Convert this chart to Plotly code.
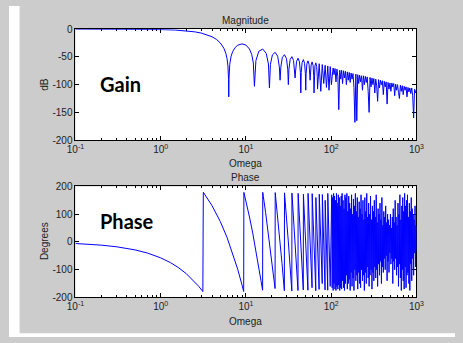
import plotly.graph_objects as go

# ---------------- Magnitude data ----------------
mag_w_low = [0.1, 0.3, 0.5, 1, 1.5, 2, 2.5, 3, 3.5, 4, 4.5, 5, 5.5, 5.8, 6, 6.15,
             6.25, 6.283, 6.32, 6.45, 6.7, 7, 7.5, 8, 8.99, 10, 11, 11.7, 12.2, 12.566]
mag_db_low = [0, -0.07, -0.18, -0.73, -1.66, -3.0, -4.79, -7.09, -10.0, -13.7, -18.4,
              -24.8, -34.3, -43.3, -53.1, -66.6, -91, -122, -89.4, -63.5, -48.4, -40.0,
              -32.7, -28.9, -26.5, -28.7, -35.8, -45.8, -61, -103]

mag_w_lobes = [13.07, 14.14, 15.71, 17.28, 18.35, 18.85,
               19.35, 20.42, 21.99, 23.56, 24.63, 25.13,
               25.63, 26.70, 28.27, 29.85, 30.92, 31.42,
               31.92, 32.99, 34.56, 36.13, 37.20, 37.70,
               38.20, 39.27, 40.84, 42.41, 43.48, 43.98,
               44.48, 45.55, 47.12, 48.69, 49.77, 50.27,
               50.77, 51.84, 53.41, 54.98, 56.05, 56.55,
               57.05, 58.12, 59.69, 61.26, 62.33, 62.83,
               63.33, 64.40, 65.97, 67.54, 68.61, 69.12,
               72.26, 75.40, 78.54, 81.68, 84.82, 87.96, 91.11, 94.25, 97.39, 100.53]
mag_db_lobes = [-56.9, -40.0, -35.8, -43.5, -62.8, -106,
                -63.7, -46.4, -41.7, -48.8, -67.9, -92,
                -68.6, -51.0, -46.0, -53.0, -71.9, -100,
                -72.4, -54.7, -49.5, -56.3, -75.1, -88,
                -75.5, -57.7, -52.4, -59.1, -77.8, -115,
                -78.2, -60.3, -54.9, -61.5, -80.1, -110,
                -80.5, -62.5, -57.1, -63.6, -82.2, -92,
                -82.5, -64.5, -59.0, -65.4, -84.0, -115,
                -84.3, -66.3, -60.7, -67.1, -85.7, -108,
                -62.3, -112, -63.8, -98, -65.1, -105, -66.3, -110, -67.5, -100]

mag_w_dense = [102.6, 105.3, 108.0, 110.8, 113.7, 116.6, 119.6, 122.7, 125.9, 129.2,
               132.5, 135.9, 139.5, 143.1, 146.8, 150.6, 154.5, 158.5, 162.6, 166.8,
               171.1, 175.5, 180.1, 184.8, 189.6, 194.5, 199.5, 204.7, 210.0, 215.4,
               221.0, 226.7, 232.6, 238.6, 244.8, 251.2, 257.7, 264.4, 271.3, 278.3,
               285.5, 292.9, 300.5, 308.3, 316.2, 324.4, 332.8, 341.5, 350.3, 359.4,
               368.7, 378.3, 388.1, 398.1, 408.5, 419.0, 429.9, 441.1, 452.5, 464.2,
               476.2, 488.6, 501.2, 514.2, 527.5, 541.2, 555.2, 569.6, 584.4, 599.5,
               615.1, 631.0, 647.4, 664.2, 681.3, 699.0, 717.1, 735.7, 754.8, 774.3,
               794.3, 815.0, 836.0, 857.7, 880.0, 902.8, 926.2, 950.2, 974.9, 1000.0]
mag_db_dense = [-86, -70, -82, -71, -95, -72, -85, -145, -74, -90,
                -74, -98, -75, -88, -76, -100, -77, -92, -78, -96,
                -79, -90, -80, -105, -168, -81, -165, -82, -98, -83,
                -95, -84, -110, -84, -100, -85, -96, -86, -112, -150,
                -87, -104, -88, -100, -89, -115, -90, -102, -130, -91,
                -106, -92, -100, -93, -118, -94, -104, -95, -135, -96,
                -108, -97, -112, -97, -104, -98, -120, -99, -110, -100,
                -114, -125, -101, -112, -102, -118, -103, -110, -104, -122,
                -105, -113, -106, -116, -106, -120, -160, -108, -115, -109]

# ---------------- Phase data ----------------
ph_w_low = [0.1, 0.15, 0.2, 0.3, 0.4, 0.5, 0.7, 1, 1.3, 1.6, 2, 2.4, 2.8, 3.12,
            3.16, 4, 5, 6, 7, 8, 9, 9.40,
            9.45, 10, 11, 12, 13, 14, 15, 15.68,
            15.73, 16, 17, 18, 19, 20, 21, 21.95,
            22.03, 23.5, 25, 26.5, 28.2]
ph_deg_low = [-5.7, -8.6, -11.5, -17.2, -22.9, -28.6, -40.1, -57.3, -74.5, -91.7, -114.6,
              -137.5, -160.4, -178.8,
              178.9, 130.8, 73.5, 16.2, -41.1, -98.4, -155.7, -178.6,
              178.6, 147.0, 89.8, 32.5, -24.8, -82.1, -139.4, -174,
              178.7, 163.3, 106.0, 48.7, -8.6, -65.9, -123.2, -168,
              177.8, 93.5, 7.6, -78.3, -175.7]

ph_w_saw = [28.32, 31.42, 34.50, 34.62, 37.70, 40.75, 40.92, 43.98, 47.0,
            47.2, 50.27, 53.3, 53.5, 56.55, 59.6, 59.8, 62.83, 65.9,
            66.1, 69.12, 72.1, 72.4, 75.40, 78.4, 78.7, 81.68, 84.7,
            84.95, 87.96, 91.0, 91.2, 94.25, 97.3]
ph_deg_saw = [177, 0, -177, 176, 0, -175, 175, 0, -173,
              172, 0, -174, 175, 0, -165, 174, 0, -176,
              160, 0, -171, 172, 0, -150, 171, 0, -173,
              150, 0, -174, 175, 0, -160]

ph_w_dense = [101.3, 102.6, 103.9, 105.3, 106.7, 108.0, 109.4, 110.8, 112.2, 113.7,
              115.2, 116.6, 118.1, 119.6, 121.1, 122.7, 124.3, 125.9, 127.5, 129.2,
              130.9, 132.5, 134.2, 135.9, 137.7, 139.5, 141.3, 143.1, 144.9, 146.8,
              148.7, 150.6, 152.5, 154.5, 156.5, 158.5, 160.5, 162.6, 164.7, 166.8,
              168.9, 171.1, 173.3, 175.5, 177.8, 180.1, 182.4, 184.8, 187.2, 189.6,
              192.0, 194.5, 197.0, 199.5, 202.1, 204.7, 207.3, 210.0, 212.7, 215.4,
              218.2, 221.0, 223.8, 226.7, 229.6, 232.6, 235.6, 238.6, 241.7, 244.8,
              247.9, 251.2, 254.4, 257.7, 261.0, 264.4, 267.8, 271.3, 274.8, 278.3,
              281.9, 285.5, 289.2, 292.9, 296.7, 300.5, 304.4, 308.3, 312.3, 316.2,
              320.3, 324.4, 328.6, 332.8, 337.1, 341.5, 345.9, 350.3, 354.8, 359.4,
              364.0, 368.7, 373.4, 378.3, 383.2, 388.1, 393.1, 398.1, 403.2, 408.5,
              413.8, 419.0, 424.4, 429.9, 435.4, 441.1, 446.8, 452.5, 458.3, 464.2,
              470.2, 476.2, 482.3, 488.6, 494.9, 501.2, 507.7, 514.2, 520.8, 527.5,
              534.3, 541.2, 548.2, 555.2, 562.3, 569.6, 576.9, 584.4, 591.9, 599.5,
              607.2, 615.1, 623.0, 631.0, 639.1, 647.4, 655.7, 664.2, 672.7, 681.3,
              690.1, 699.0, 708.0, 717.1, 726.3, 735.7, 745.2, 754.8, 764.5, 774.3,
              784.3, 794.3, 804.5, 815.0, 825.5, 836.0, 846.8, 857.7, 868.7, 880.0,
              891.3, 902.8, 914.4, 926.2, 938.1, 950.2, 962.4, 974.9, 987.4, 1000.0]
ph_deg_dense = [170, -165, 160, -175, 175, -150, 165, -170, 150, -175,
                175, -160, 140, -170, 170, -155, 160, -175, 130, -165,
                165, -170, 175, -140, 150, -165, 120, -175, 170, -150,
                160, -120, 175, -170, 110, -150, 165, -135, 140, -175,
                120, -110, 170, -160, 100, -130, 155, -175, 130, -100,
                175, -140, 110, -120, 160, -170, 90, -110, 145, -150,
                120, -165, 170, -100, 100, -140, 150, -120, 80, -175,
                160, -110, 110, -150, 175, -90, 90, -130, 140, -160,
                100, -120, 165, -100, 80, -170, 130, -110, 110, -140,
                150, -90, 90, -130, 170, -100, 70, -160, 120, -80,
                100, -120, 140, -70, 80, -150, 160, -90, 60, -110,
                110, -60, 90, -100, 130, -50, 70, -140, 100, -70,
                80, -110, 60, -40, 100, -80, 50, -60, 90, -150,
                120, -70, 70, -100, 150, -60, 90, -120, 60, -90,
                140, -160, 100, -80, 170, -130, 80, -175, 130, -100,
                160, -140, 110, -170, 175, -90, 130, -165, 150, -120,
                170, -110, 90, -150, 140, -175, 110, -80, 160, -140,
                120, -60, 100, -120, 80, -40, 130, -90, 60, -30]

x_tickvals = [0.1, 1, 10, 100, 1000]
x_ticktext = ["10<sup>-1</sup>", "10<sup>0</sup>", "10<sup>1</sup>", "10<sup>2</sup>", "10<sup>3</sup>"]
mag_tickvals = [-200, -150, -100, -50, 0]
mag_ticktext = ["-200", "-150", "-100", "-50", "0"]
ph_tickvals = [-200, -100, 0, 100, 200]
ph_ticktext = ["-200", "-100", "0", "100", "200"]

mag_w = mag_w_low + mag_w_lobes + mag_w_dense
mag_db = mag_db_low + mag_db_lobes + mag_db_dense
ph_w = ph_w_low + ph_w_saw + ph_w_dense
ph_deg = ph_deg_low + ph_deg_saw + ph_deg_dense

W, H = 463, 343
def px(x):
    return x / W
def py(y):
    return 1 - y / H

BLUE = "rgb(0,0,255)"
fig = go.Figure()
fig.add_trace(go.Scatter(x=mag_w, y=mag_db, mode="lines",
                         line=dict(color=BLUE, width=1), xaxis="x", yaxis="y"))
fig.add_trace(go.Scatter(x=ph_w, y=ph_deg, mode="lines",
                         line=dict(color=BLUE, width=1), xaxis="x2", yaxis="y2"))

minor_vals = [m * 10 ** e for e in range(-1, 3) for m in range(2, 10)]
tickfont = dict(family="Liberation Sans, Arial", size=10, color="#222222")

def xax(domain, anchor):
    return dict(domain=domain, anchor=anchor, type="log", range=[-1, 3],
                tickmode="array", tickvals=x_tickvals, ticktext=x_ticktext,
                ticks="inside", ticklen=4, tickcolor="black", tickwidth=1,
                showline=True, linecolor="black", linewidth=1, mirror="ticks",
                showgrid=False, zeroline=False, tickfont=tickfont,
                layer="below traces",
                minor=dict(tickmode="array", tickvals=minor_vals, ticks="inside",
                           ticklen=2, tickcolor="black", showgrid=False))

def yax(domain, anchor, rng, tv, tt):
    return dict(domain=domain, anchor=anchor, range=rng, tickmode="array",
                tickvals=tv, ticktext=tt, ticks="inside", ticklen=4,
                tickcolor="black", showline=True, linecolor="black", linewidth=1,
                mirror="ticks", showgrid=False, zeroline=False, tickfont=tickfont,
                layer="below traces")

x0, x1 = px(69), px(423)
fig.update_layout(
    width=W, height=H, margin=dict(l=0, r=0, t=0, b=0),
    paper_bgcolor="#cccccc", plot_bgcolor="white", showlegend=False,
    xaxis=xax([x0, x1], "y"),
    yaxis=yax([py(139), py(24)], "x", [-200, 0], mag_tickvals, mag_ticktext),
    xaxis2=xax([x0, x1], "y2"),
    yaxis2=yax([py(302), py(187)], "x2", [-200, 200], ph_tickvals, ph_ticktext),
    shapes=[
        dict(type="rect", xref="paper", yref="paper", x0=0, x1=px(11), y0=0, y1=1,
             fillcolor="white", line=dict(width=0), layer="below"),
        dict(type="rect", xref="paper", yref="paper", x0=0, x1=1, y0=0, y1=4 / H,
             fillcolor="white", line=dict(width=0), layer="below"),
    ],
)

small = dict(family="Liberation Sans, Arial", size=10, color="#222222")
big = dict(family="Lato", size=20, color="black")
xc = px(246)
annots = [
    dict(text="Magnitude", x=xc, y=py(15), font=small),
    dict(text="Omega", x=xc, y=py(163), font=small),
    dict(text="Phase", x=xc, y=py(178), font=small),
    dict(text="Omega", x=xc, y=py(327), font=small),
    dict(text="dB", x=px(37), y=py(81), font=small, textangle=-90),
    dict(text="Degrees", x=px(37), y=py(244), font=small, textangle=-90),
    dict(text="<b>Gain</b>", x=px(92), y=py(81), font=big, xanchor="left"),
    dict(text="<b>Phase</b>", x=px(92), y=py(223), font=big, xanchor="left"),
]
for a in annots:
    a.setdefault("xanchor", "center")
    fig.add_annotation(xref="paper", yref="paper", showarrow=False, yanchor="middle", **a)

fig.write_html("out.html",
               post_script="document.body.style.margin='0px';document.body.style.overflow='hidden';")
